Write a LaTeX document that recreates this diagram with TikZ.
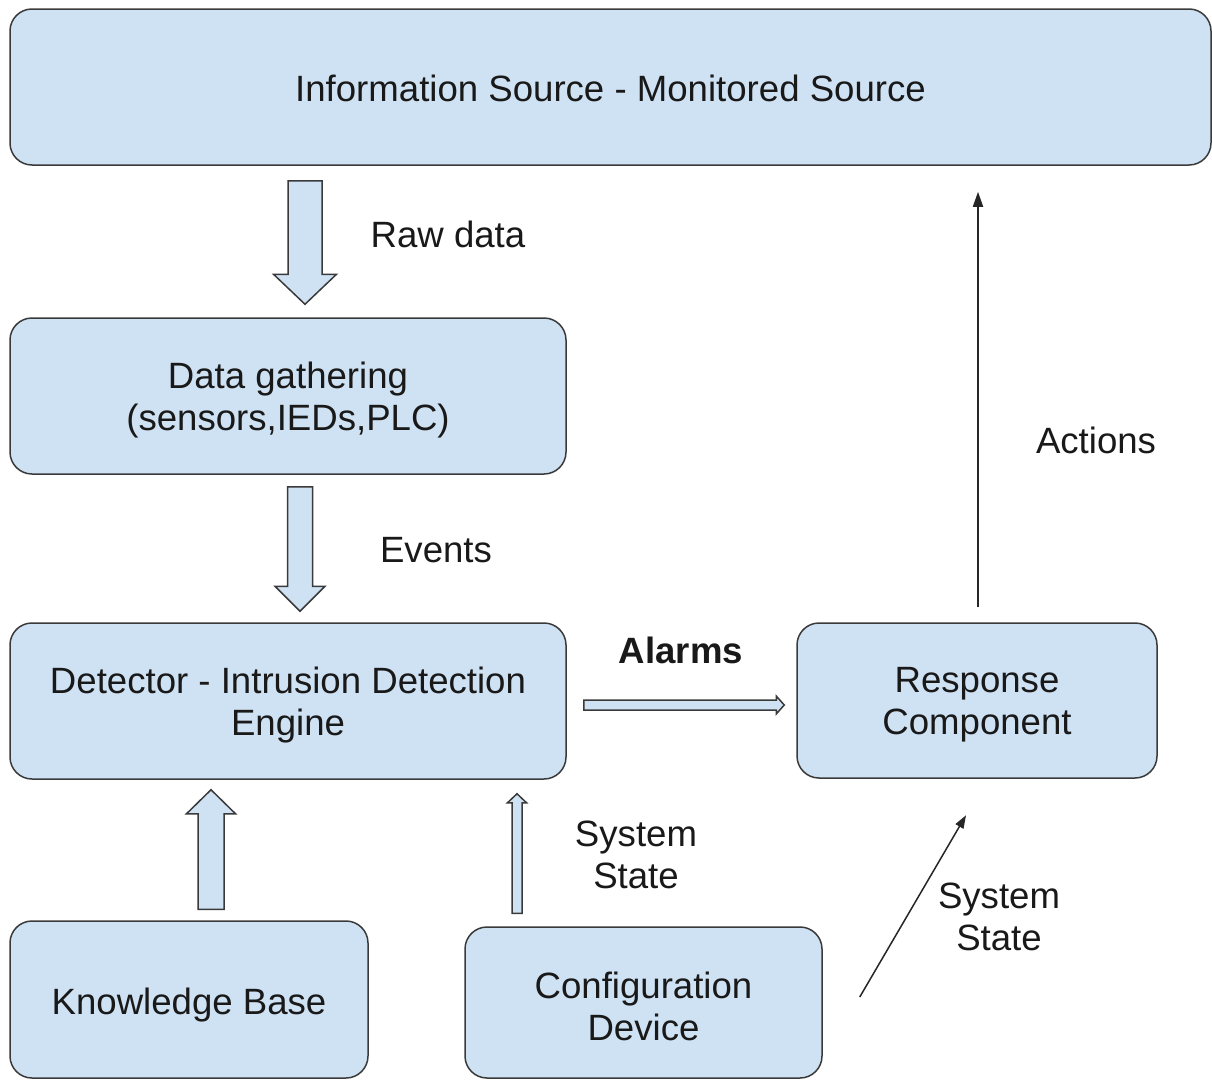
\documentclass[tikz,border=0pt]{standalone}
\usepackage{fontspec}
\setmainfont{Liberation Sans}
\usetikzlibrary{calc,arrows.meta}

\definecolor{boxfill}{HTML}{CFE2F3}
\definecolor{boxline}{HTML}{3A3A3A}

% Block arrow from #1 (tail) to #2 (tip): half shaft width #3, half head width #4, head length #5
\newcommand\blockarrow[5]{%
  \coordinate (ba-h) at ($(#2)!#5!(#1)$);
  \draw[blockarr]
    ($(#1)!#3!90:(#2)$) -- ($(ba-h)!#3!90:(#2)$) -- ($(ba-h)!#4!90:(#2)$) -- (#2)
    -- ($(ba-h)!#4!-90:(#2)$) -- ($(ba-h)!#3!-90:(#2)$) -- ($(#1)!#3!-90:(#2)$) -- cycle;
}

\tikzset{
  txt/.style={font=\fontsize{36.6}{42}\selectfont, text=black!90, align=center},
  box/.style={draw=boxline, fill=boxfill, line width=1.5pt, rounded corners=22pt,
              inner sep=0pt, minimum width=#1},
  boxtext/.style={txt, yshift=-4pt},
  blockarr/.style={draw=boxline, fill=boxfill, line width=1.5pt, line join=miter},
  thinarr/.style={draw=black!85, line width=1.8pt,
                  -{Triangle[length=15pt,width=10pt]}},
  lbl/.style={txt},
}

\begin{document}
\begin{tikzpicture}[x=1pt, y=-1pt]
  \useasboundingbox (0,0) rectangle (1212,1079);
  \clip (0,0) rectangle (1212,1079);

  % boxes
  \node[box=1201pt, minimum height=156pt,
        label={[boxtext, yshift=3pt]center:{Information Source - Monitored Source}}] (info) at (610.5,87) {};
  \node[box=556pt, minimum height=156pt,
        label={[boxtext]center:{Data gathering\\(sensors,IEDs,PLC)}}] (data) at (288,396) {};
  \node[box=556pt, minimum height=156pt,
        label={[boxtext]center:{Detector - Intrusion Detection\\Engine}}] (det) at (288,701) {};
  \node[box=360pt, minimum height=155pt,
        label={[boxtext]center:{Response\\Component}}] (resp) at (977,700.5) {};
  \node[box=358pt, minimum height=157pt,
        label={[boxtext, yshift=-2pt]center:{Knowledge Base}}] (kb) at (189,999.5) {};
  \node[box=357pt, minimum height=151pt,
        label={[boxtext]center:{Configuration\\Device}}] (conf) at (643.5,1002.5) {};

  % block arrow end points
  \coordinate (raw-t) at ($(info.south)+(-305.5,15)$);
  \coordinate (raw-h) at ($(data.north)+(17,-13)$);
  \coordinate (ev-t)  at ($(data.south)+(12,12)$);
  \coordinate (ev-h)  at ($(det.north)+(12,-11)$);
  \coordinate (kb-t)  at ($(kb.north)+(22,-11)$);
  \coordinate (kb-h)  at ($(det.south)+(-77,10)$);
  \coordinate (cf-t)  at ($(conf.north)+(-126.5,-13)$);
  \coordinate (cf-h)  at ($(det.south)+(229,14)$);
  \coordinate (al-t)  at ($(det.east)+(17,4)$);
  \coordinate (al-h)  at ($(resp.west)+(-12,4.5)$);

  \blockarrow{raw-t}{raw-h}{17pt}{31.5pt}{30pt}
  \blockarrow{ev-t}{ev-h}{12.5pt}{25pt}{25pt}
  \blockarrow{kb-t}{kb-h}{13pt}{24.5pt}{24pt}
  \blockarrow{cf-t}{cf-h}{5pt}{9.5pt}{9pt}
  \blockarrow{al-t}{al-h}{5pt}{9pt}{8pt}

  % thin arrows
  \coordinate (act-t) at ($(resp.north)+(1,-15)$);
  \coordinate (act-h) at ($(info.south -| act-t)+(0,26)$);
  \draw[thinarr] (act-t) -- (act-h);
  \coordinate (ss-t) at ($(conf.east)+(37,-5.5)$);
  \coordinate (ss-h) at ($(resp.south)+(-11,36.5)$);
  \draw[thinarr, -{Triangle[length=13pt,width=9pt]}, line width=1.5pt] (ss-t) -- (ss-h);

  % labels
  \node[lbl] (l-raw) at (448,234) {Raw data};
  \node[lbl] (l-ev) at (436,550) {Events};
  \node[lbl, font=\fontsize{36.6}{42}\selectfont\bfseries] (l-al) at (681,650) {Alarms};
  \node[lbl] (l-act) at (1096,440) {Actions};
  \node[lbl] (l-ss1) at (636,855) {System\\State};
  \node[lbl] (l-ss2) at (999,917) {System\\State};
\end{tikzpicture}
\end{document}
